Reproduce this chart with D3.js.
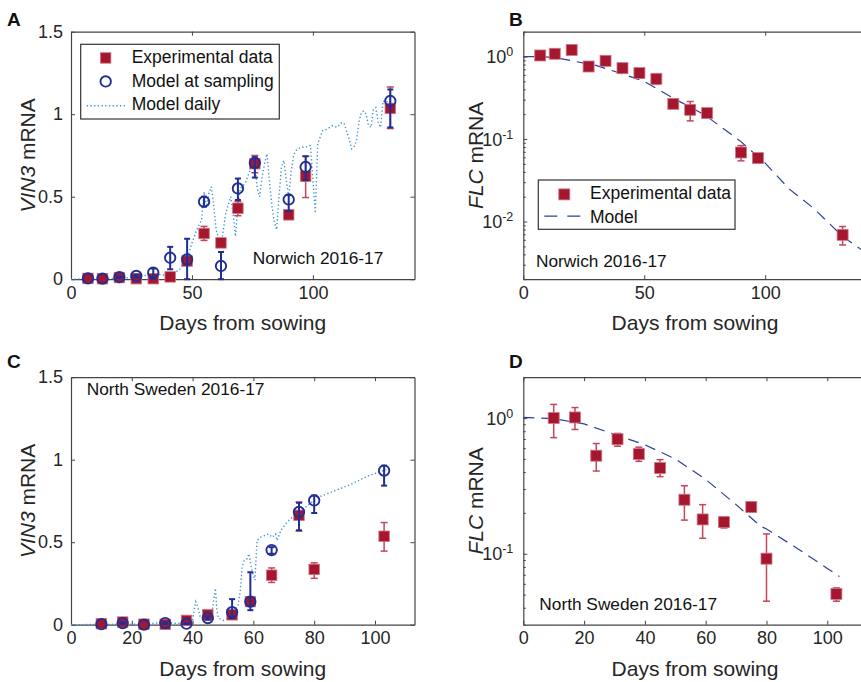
<!DOCTYPE html>
<html><head><meta charset="utf-8">
<script src="https://cdn.jsdelivr.net/npm/d3@7/dist/d3.min.js"></script>
<style>
html,body{margin:0;padding:0;background:#fff;}
svg{display:block;font-family:"Liberation Sans",Arial,Helvetica,sans-serif;}
</style></head>
<body>
<svg id="chart" width="861" height="682"></svg>
<script>
// ---------------- DATA ----------------
// Panel A: VIN3, Norwich 2016-17
const norDays = [7, 13, 20, 27, 34, 41, 48, 55, 62, 69, 76, 90, 97, 132];
const vin3NorExp   = [0.005, 0.003, 0.010, 0.003, 0.003, 0.014, 0.11, 0.277, 0.22, 0.43, 0.70, 0.39, 0.624, 1.035];
const vin3NorExpLo = [0.002, 0.001, 0.005, 0.001, 0.001, 0.008, 0.09, 0.235, 0.20, 0.385, 0.645, 0.37, 0.495, 0.913];
const vin3NorExpHi = [0.008, 0.005, 0.015, 0.005, 0.005, 0.020, 0.13, 0.32, 0.24, 0.47, 0.75, 0.41, 0.745, 1.165];
const vin3NorMod   = [0.005, 0.003, 0.012, 0.020, 0.040, 0.13, 0.12, 0.47, 0.08, 0.55, 0.705, 0.483, 0.68, 1.08];
const vin3NorModLo = [0.005, 0.003, 0.008, 0.012, 0.003, 0.06, 0.00, 0.44, 0.00, 0.48, 0.616, 0.414, 0.60, 0.92];
const vin3NorModHi = [0.005, 0.003, 0.016, 0.028, 0.065, 0.196, 0.245, 0.50, 0.165, 0.61, 0.74, 0.51, 0.745, 1.15];
const vin3NorDailyDays = [0, 10, 20, 25, 28, 33, 36, 40, 42, 45, 48, 50, 52, 54, 55, 56, 57, 58, 59, 60, 62, 63, 64, 65, 66, 67, 68, 69, 70, 72, 74, 75, 76, 77, 78, 79, 80, 81, 82, 83, 84, 85, 86, 87, 88, 89, 90, 91, 92, 93, 95, 97, 99, 100, 101, 102, 104, 106, 108, 110, 112, 113, 115, 116, 117, 118, 119, 120, 121, 122, 123, 124, 125, 126, 127, 128, 129, 130, 131, 132];
const vin3NorDaily     = [0, 0.003, 0.005, 0.01, 0.025, 0.02, 0.03, 0.02, 0.03, 0.06, 0.12, 0.22, 0.30, 0.36, 0.53, 0.44, 0.52, 0.56, 0.45, 0.30, 0.20, 0.30, 0.40, 0.45, 0.50, 0.40, 0.26, 0.45, 0.55, 0.58, 0.66, 0.74, 0.68, 0.55, 0.50, 0.62, 0.70, 0.76, 0.60, 0.45, 0.35, 0.30, 0.50, 0.68, 0.72, 0.60, 0.50, 0.65, 0.75, 0.78, 0.80, 0.80, 0.81, 0.60, 0.40, 0.82, 0.90, 0.91, 0.93, 0.92, 0.95, 0.94, 0.85, 0.79, 0.80, 0.84, 0.95, 1.01, 1.02, 1.00, 0.93, 0.92, 1.03, 1.04, 0.95, 0.92, 1.08, 1.07, 1.08, 1.07];

// Panel B: FLC, Norwich 2016-17
const flcNorExp   = [1.03, 1.08, 1.20, 0.757, 0.887, 0.723, 0.63, 0.537, 0.267, 0.226, 0.206, 0.0687, 0.0587, 0.0069];
const flcNorExpLo = [0.98, 1.03, 1.13, 0.72, 0.84, 0.66, 0.55, 0.46, 0.25, 0.166, 0.19, 0.0544, 0.055, 0.0052];
const flcNorExpHi = [1.08, 1.13, 1.27, 0.80, 0.93, 0.79, 0.71, 0.58, 0.285, 0.285, 0.22, 0.0834, 0.062, 0.0087];
const flcNorModDays = [0, 7, 13, 20, 30, 40, 50, 62, 75, 90, 100, 110, 120, 132, 142];
const flcNorMod     = [1.0, 1.0, 0.97, 0.89, 0.78, 0.63, 0.50, 0.313, 0.196, 0.093, 0.051, 0.0247, 0.0145, 0.0066, 0.0041];

// Panel C: VIN3, North Sweden 2016-17
const swDays = [10, 17, 24, 31, 38, 45, 53, 59, 66, 75, 80, 103];
const vin3SwExp   = [0.006, 0.016, 0.003, 0.002, 0.026, 0.06, 0.06, 0.14, 0.30, 0.663, 0.335, 0.536];
const vin3SwExpLo = [0.002, 0.010, 0.001, 0.000, 0.018, 0.045, 0.045, 0.12, 0.256, 0.568, 0.281, 0.446];
const vin3SwExpHi = [0.010, 0.022, 0.005, 0.004, 0.034, 0.075, 0.075, 0.16, 0.344, 0.743, 0.375, 0.619];
const vin3SwMod   = [0.003, 0.010, 0.000, 0.010, 0.006, 0.04, 0.076, 0.14, 0.452, 0.683, 0.753, 0.934];
const vin3SwModLo = [0.003, 0.006, 0.000, 0.006, 0.004, 0.03, 0.04, 0.088, 0.43, 0.572, 0.677, 0.843];
const vin3SwModHi = [0.003, 0.014, 0.000, 0.014, 0.008, 0.05, 0.155, 0.318, 0.47, 0.739, 0.783, 0.964];
const vin3SwDailyDays = [0, 10, 20, 25, 28, 31, 35, 38, 40, 41, 41.5, 42.5, 44.5, 46.5, 47.5, 48, 48.5, 50, 51.5, 53, 55, 55.7, 56.3, 57, 58, 58.5, 59.5, 60.5, 61.2, 62.3, 65, 66.2, 67.3, 67.8, 69, 71, 74.4, 77.7, 81, 86.5, 92, 97.5, 102, 103.7];
const vin3SwDaily     = [0, 0.002, 0.003, 0.004, 0.01, 0.012, 0.008, 0.01, 0.03, 0.14, 0.12, 0.05, 0.04, 0.09, 0.22, 0.09, 0.04, 0.025, 0.035, 0.07, 0.12, 0.21, 0.35, 0.39, 0.40, 0.43, 0.33, 0.27, 0.51, 0.53, 0.55, 0.53, 0.55, 0.51, 0.57, 0.62, 0.68, 0.72, 0.77, 0.81, 0.85, 0.90, 0.93, 0.94];

// Panel D: FLC, North Sweden 2016-17
const flcSwExp   = [1.0, 1.01, 0.528, 0.698, 0.543, 0.428, 0.25, 0.179, 0.171, 0.221, 0.092, 0.0506];
const flcSwExpLo = [0.717, 0.824, 0.407, 0.62, 0.48, 0.37, 0.177, 0.13, 0.155, 0.21, 0.0447, 0.0447];
const flcSwExpHi = [1.26, 1.195, 0.649, 0.77, 0.61, 0.494, 0.317, 0.23, 0.186, 0.232, 0.14, 0.056];
const flcSwModDays = [0, 10, 20, 30, 40, 50, 60, 70, 78, 80, 90, 100, 104];
const flcSwMod     = [1.01, 0.99, 0.905, 0.758, 0.635, 0.50, 0.353, 0.23, 0.16, 0.152, 0.11, 0.078, 0.068];

// Tick labels
const linXTicksNor = [0, 50, 100];
const linXTicksSw = [0, 20, 40, 60, 80, 100];
const vin3YTicks = [0, 0.5, 1, 1.5];
const vin3YLabels = ["0", "0.5", "1", "1.5"];
const flcNorMajor = [1e-2, 1e-1, 1];
const flcNorExps = ["-2", "-1", "0"];
const flcSwMajor = [1e-1, 1];
const flcSwExps = ["-1", "0"];

// ---------------- STYLE ----------------
const RED = "#a5172f", RED_ERR = "#c0475c", BLUE = "#1f2e96", DAILY = "#3d93d6", MODEL = "#2c3ea3";
const AXIS = "#444", TXT = "#262626";
const svg = d3.select("#chart");

function makeAxes(g, x, y, W, H, xTicks, yLog, yTicks, yLabels, logMajor, logExps) {
  const ax = g.append("g").attr("class", "axes");
  const style = sel => {
    sel.select(".domain").attr("stroke", AXIS).attr("stroke-width", 1.2);
    sel.selectAll(".tick line").attr("stroke", AXIS).attr("stroke-width", 1);
    sel.selectAll(".tick text").attr("fill", TXT).attr("font-size", 18);
  };
  ax.append("g").attr("transform", `translate(0,${H})`)
    .call(d3.axisBottom(x).tickValues(xTicks).tickSize(-4).tickSizeOuter(0).tickPadding(7).tickFormat(d3.format("d")))
    .call(style).call(s => s.selectAll("text").attr("font-family", "inherit"));
  ax.append("g")
    .call(d3.axisTop(x).tickValues(xTicks).tickSize(-4).tickSizeOuter(0).tickFormat(""))
    .call(style);
  if (!yLog) {
    ax.append("g")
      .call(d3.axisLeft(y).tickValues(yTicks).tickSize(-4).tickSizeOuter(0).tickPadding(8).tickFormat((d, i) => yLabels[i]))
      .call(style);
    ax.append("g").attr("transform", `translate(${W},0)`)
      .call(d3.axisRight(y).tickValues(yTicks).tickSize(-4).tickSizeOuter(0).tickFormat(""))
      .call(style);
  } else {
    const [lo, hi] = y.domain();
    const minor = [];
    for (let e = Math.floor(Math.log10(lo)); e <= Math.ceil(Math.log10(hi)); e++) {
      for (let m = 2; m <= 9; m++) {
        const v = m * Math.pow(10, e);
        if (v >= lo && v <= hi) minor.push(v);
      }
    }
    const allT = logMajor.concat(minor);
    const left = ax.append("g")
      .call(d3.axisLeft(y).tickValues(allT).tickSize(-4).tickSizeOuter(0).tickPadding(11).tickFormat(""))
      .call(style);
    left.selectAll(".tick").filter(d => !logMajor.includes(d)).select("line").attr("x2", 2.5);
    logMajor.forEach((v, i) => {
      const t = left.append("text").attr("x", -10).attr("y", y(v)).attr("dy", "0.36em")
        .attr("text-anchor", "end").attr("fill", TXT).attr("font-size", 18);
      t.append("tspan").text("10");
      t.append("tspan").attr("dy", "-0.55em").attr("font-size", 12.5).text(logExps[i]);
    });
    const right = ax.append("g").attr("transform", `translate(${W},0)`)
      .call(d3.axisRight(y).tickValues(allT).tickSize(-4).tickSizeOuter(0).tickFormat(""))
      .call(style);
    right.selectAll(".tick").filter(d => !logMajor.includes(d)).select("line").attr("x2", -2.5);
  }
}

function errorBars(g, x, y, days, lo, hi, color, width, cap) {
  const eb = g.append("g");
  days.forEach((d, i) => {
    if (hi[i] - lo[i] <= 0) return;
    const cx = x(d), y1 = y(Math.max(lo[i], y.domain()[0])), y2 = y(hi[i]);
    eb.append("line").attr("x1", cx).attr("x2", cx).attr("y1", y1).attr("y2", y2)
      .attr("stroke", color).attr("stroke-width", width);
    [y1, y2].forEach(yy => eb.append("line").attr("x1", cx - cap / 2).attr("x2", cx + cap / 2)
      .attr("y1", yy).attr("y2", yy).attr("stroke", color).attr("stroke-width", width));
  });
}

function squares(g, x, y, days, vals, size) {
  g.append("g").selectAll("rect").data(days).join("rect")
    .attr("x", d => x(d) - size / 2).attr("y", (d, i) => y(vals[i]) - size / 2)
    .attr("width", size).attr("height", size)
    .attr("fill", RED).attr("stroke", "#d07686").attr("stroke-width", 0.8);
}

function circles(g, x, y, days, vals) {
  g.append("g").selectAll("circle").data(days).join("circle")
    .attr("cx", d => x(d)).attr("cy", (d, i) => y(vals[i])).attr("r", 5.2)
    .attr("fill", "none").attr("stroke", BLUE).attr("stroke-width", 1.9);
}

function panelLetter(t, px, py) {
  svg.append("text").attr("x", px).attr("y", py).attr("font-size", 19).attr("font-weight", "bold")
    .attr("fill", "#111").text(t);
}

function yLabel(g, H, italic, rest, off) {
  const t = g.append("text").attr("transform", `translate(${-off},${H / 2}) rotate(-90)`)
    .attr("text-anchor", "middle").attr("font-size", 21).attr("fill", TXT);
  t.append("tspan").attr("font-style", "italic").text(italic);
  t.append("tspan").text(rest);
}

function xLabel(g, W, H) {
  g.append("text").attr("x", W / 2).attr("y", H + 51).attr("text-anchor", "middle")
    .attr("font-size", 21).attr("fill", TXT).text("Days from sowing");
}

const W = 343.5, H = 247.5;
const L1 = 71, L2 = 523.3, T1 = 31.7, T2 = 377.2;

// ---------- Panel A ----------
{
  const g = svg.append("g").attr("transform", `translate(${L1},${T1})`);
  const x = d3.scaleLinear().domain([0, 142]).range([0, W]);
  const y = d3.scaleLinear().domain([0, 1.5]).range([H, 0]);
  makeAxes(g, x, y, W, H, linXTicksNor, false, vin3YTicks, vin3YLabels);
  const line = d3.line().x(d => x(d[0])).y(d => y(d[1]));
  g.append("path").datum(vin3NorDailyDays.map((d, i) => [d, vin3NorDaily[i]])).attr("d", line)
    .attr("fill", "none").attr("stroke", DAILY).attr("stroke-width", 1.4).attr("stroke-dasharray", "1.3,2.4");
  errorBars(g, x, y, norDays, vin3NorExpLo, vin3NorExpHi, RED_ERR, 1.5, 7);
  squares(g, x, y, norDays, vin3NorExp, 10.5);
  errorBars(g, x, y, norDays, vin3NorModLo, vin3NorModHi, BLUE, 2, 6);
  circles(g, x, y, norDays, vin3NorMod);
  g.append("text").attr("x", 181.7).attr("y", 232.5).attr("font-size", 17.3).attr("fill", "#111").text("Norwich 2016-17");
  // legend
  const lg = g.append("g").attr("transform", "translate(9.7,12.6)");
  lg.append("rect").attr("width", 198.6).attr("height", 74.7).attr("fill", "#fff").attr("stroke", "#333").attr("stroke-width", 1.2);
  lg.append("rect").attr("x", 19.7).attr("y", 8.4).attr("width", 10.5).attr("height", 10.5).attr("fill", RED).attr("stroke", "#d07686").attr("stroke-width", 0.8);
  lg.append("circle").attr("cx", 25).attr("cy", 37.1).attr("r", 5.2).attr("fill", "none").attr("stroke", BLUE).attr("stroke-width", 1.9);
  lg.append("line").attr("x1", 6).attr("x2", 46).attr("y1", 61.4).attr("y2", 61.4).attr("stroke", DAILY).attr("stroke-width", 1.4).attr("stroke-dasharray", "1.3,2.4");
  [["Experimental data", 18.7], ["Model at sampling", 42.4], ["Model daily", 65.8]].forEach(([t, yy]) =>
    lg.append("text").attr("x", 51).attr("y", yy).attr("font-size", 17.5).attr("fill", "#111").text(t));
  yLabel(g, H, "VIN3", " mRNA", 36);
  xLabel(g, W, H);
}

// ---------- Panel B ----------
{
  const g = svg.append("g").attr("transform", `translate(${L2},${T1})`);
  const x = d3.scaleLinear().domain([0, 142]).range([0, W]);
  const y = d3.scaleLog().domain([0.002, 2]).range([H, 0]);
  makeAxes(g, x, y, W, H, linXTicksNor, true, null, null, flcNorMajor, flcNorExps);
  const line = d3.line().x(d => x(d[0])).y(d => y(d[1]));
  g.append("path").datum(flcNorModDays.map((d, i) => [d, flcNorMod[i]])).attr("d", line)
    .attr("fill", "none").attr("stroke", MODEL).attr("stroke-width", 1.2).attr("stroke-dasharray", "11,7");
  errorBars(g, x, y, norDays, flcNorExpLo, flcNorExpHi, RED_ERR, 1.5, 7);
  squares(g, x, y, norDays, flcNorExp, 11);
  g.append("text").attr("x", 12.7).attr("y", 235).attr("font-size", 17.3).attr("fill", "#111").text("Norwich 2016-17");
  const lg = g.append("g").attr("transform", "translate(15,148.3)");
  lg.append("rect").attr("width", 196.7).attr("height", 49.3).attr("fill", "#fff").attr("stroke", "#333").attr("stroke-width", 1.2);
  lg.append("rect").attr("x", 20.5).attr("y", 8.9).attr("width", 11).attr("height", 11).attr("fill", RED).attr("stroke", "#d07686").attr("stroke-width", 0.8);
  lg.append("line").attr("x1", 6).attr("x2", 42).attr("y1", 36.2).attr("y2", 36.2).attr("stroke", MODEL).attr("stroke-width", 1.2).attr("stroke-dasharray", "13,10");
  [["Experimental data", 18.8], ["Model", 42.8]].forEach(([t, yy]) =>
    lg.append("text").attr("x", 51.7).attr("y", yy).attr("font-size", 17.5).attr("fill", "#111").text(t));
  yLabel(g, H, "FLC", " mRNA", 40);
  xLabel(g, W, H);
}

// ---------- Panel C ----------
{
  const g = svg.append("g").attr("transform", `translate(${L1},${T2})`);
  const x = d3.scaleLinear().domain([0, 113]).range([0, W]);
  const y = d3.scaleLinear().domain([0, 1.5]).range([H, 0]);
  makeAxes(g, x, y, W, H, linXTicksSw, false, vin3YTicks, vin3YLabels);
  const line = d3.line().x(d => x(d[0])).y(d => y(d[1]));
  g.append("path").datum(vin3SwDailyDays.map((d, i) => [d, vin3SwDaily[i]])).attr("d", line)
    .attr("fill", "none").attr("stroke", DAILY).attr("stroke-width", 1.4).attr("stroke-dasharray", "1.3,2.4");
  errorBars(g, x, y, swDays, vin3SwExpLo, vin3SwExpHi, RED_ERR, 1.5, 7);
  squares(g, x, y, swDays, vin3SwExp, 10.5);
  errorBars(g, x, y, swDays, vin3SwModLo, vin3SwModHi, BLUE, 2, 6);
  circles(g, x, y, swDays, vin3SwMod);
  g.append("text").attr("x", 15.7).attr("y", 17.8).attr("font-size", 17.3).attr("fill", "#111").text("North Sweden 2016-17");
  yLabel(g, H, "VIN3", " mRNA", 36);
  xLabel(g, W, H);
}

// ---------- Panel D ----------
{
  const g = svg.append("g").attr("transform", `translate(${L2},${T2})`);
  const x = d3.scaleLinear().domain([0, 113]).range([0, W]);
  const y = d3.scaleLog().domain([0.03, 2]).range([H, 0]);
  makeAxes(g, x, y, W, H, linXTicksSw, true, null, null, flcSwMajor, flcSwExps);
  const line = d3.line().x(d => x(d[0])).y(d => y(d[1]));
  g.append("path").datum(flcSwModDays.map((d, i) => [d, flcSwMod[i]])).attr("d", line)
    .attr("fill", "none").attr("stroke", MODEL).attr("stroke-width", 1.2).attr("stroke-dasharray", "11,7");
  errorBars(g, x, y, swDays, flcSwExpLo, flcSwExpHi, RED_ERR, 1.5, 7);
  squares(g, x, y, swDays, flcSwExp, 11);
  g.append("text").attr("x", 16).attr("y", 233).attr("font-size", 17.3).attr("fill", "#111").text("North Sweden 2016-17");
  yLabel(g, H, "FLC", " mRNA", 40);
  xLabel(g, W, H);
}

panelLetter("A", 7, 26);
panelLetter("B", 509, 26);
panelLetter("C", 7, 368);
panelLetter("D", 509, 368);
</script>
</body></html>
